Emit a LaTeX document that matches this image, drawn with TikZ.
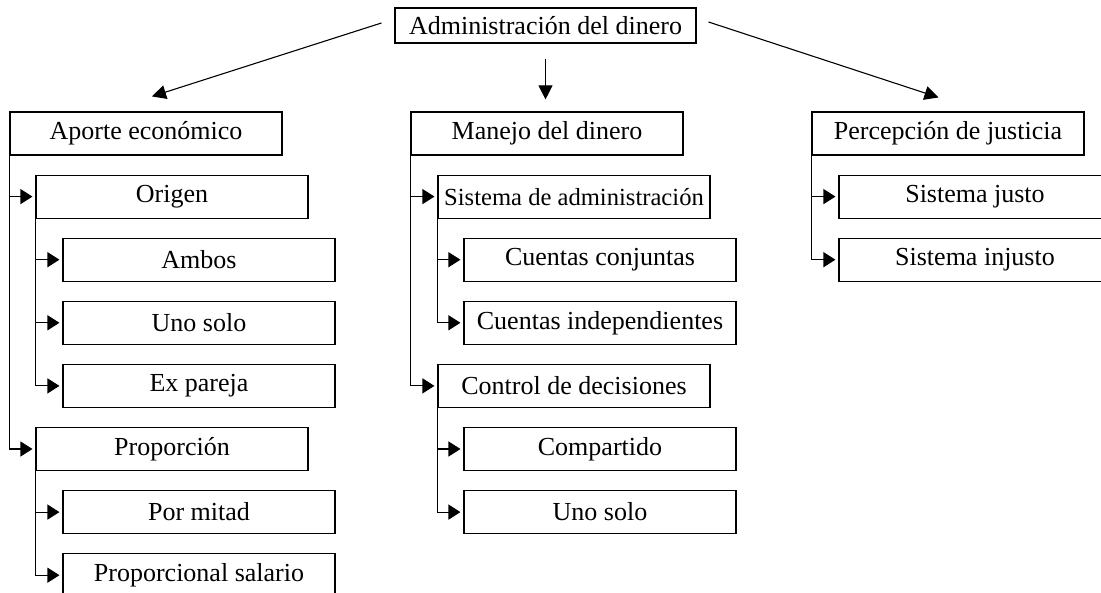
\documentclass[tikz,border=0pt]{standalone}
\usepackage{fontspec}
\setmainfont{Liberation Serif}
\usetikzlibrary{arrows.meta}
\begin{document}
\begin{tikzpicture}[x=1pt, y=-1pt, line width=1.1pt,
  every node/.style={font=\fontsize{26}{30}\selectfont},
  box/.style={draw, rectangle, minimum width=272pt, minimum height=43pt, inner sep=1pt},
  branch/.style={-{Triangle[length=12pt,width=15pt]}, shorten >=3pt},
  link/.style={-{Triangle[length=14pt,width=14pt]}}]
\clip (0,0) rectangle (1101,593);
% raiz
\node [draw, minimum width=301pt, minimum height=35pt, inner sep=1pt](raiz) at (545.5,25.5) {Administración del dinero};
% aporte economico
\node [box](aporte) at (146,133.5) {Aporte económico};
\node [box](origen) at (172,196.6) {Origen};
\node [box](ambos) at (199,259.7) {Ambos};
\node [box](unoA) at (199,322.8) {Uno solo};
\node [box](expareja) at (199,385.9) {Ex pareja};
\node [box](proporcion) at (172,449) {Proporción};
\node [box](mitad) at (199,512.1) {Por mitad};
\node [box](salario) at (199,575.2) {Proporcional salario};
% manejo del dinero
\node [box](manejo) at (547,133.5) {Manejo del dinero};
\node [box, font=\fontsize{24.6}{30}\selectfont](sistema) at (574,196.6) {Sistema de administración};
\node [box](conjuntas) at (600,259.7) {Cuentas conjuntas};
\node [box](independ) at (600,322.8) {Cuentas independientes};
\node [box](control) at (574,385.9) {Control de decisiones};
\node [box](compartido) at (600,449) {Compartido};
\node [box](unoB) at (600,512.1) {Uno solo};
% percepcion de justicia
\node [box](percep) at (948,133.5) {Percepción de justicia};
\node [box](justo) at (975,196.6) {Sistema justo};
\node [box](injusto) at (975,259.7) {Sistema injusto};
% flechas de la raiz
\coordinate (ls) at ([xshift=-13pt,yshift=2.5pt]raiz.west);
\coordinate (le) at ([xshift=6pt,yshift=15pt]aporte.north);
\coordinate (rs) at ([xshift=12pt,yshift=3.5pt]raiz.east);
\coordinate (re) at ([xshift=-9.5pt,yshift=14pt]percep.north);
\draw [link] (ls) -- (le);
\draw [link] (rs) -- (re);
\draw [link, shorten <=15pt, shorten >=12pt] (raiz.south) -- (raiz.south |- manejo.north);
% ramas
\foreach \p/\c in {aporte/origen, aporte/proporcion, origen/ambos, origen/unoA, origen/expareja,
  proporcion/mitad, proporcion/salario, manejo/sistema, manejo/control, sistema/conjuntas,
  sistema/independ, control/compartido, control/unoB, percep/justo, percep/injusto}
  \draw [branch] (\p.south west) |- (\c.west);
\end{tikzpicture}
\end{document}
